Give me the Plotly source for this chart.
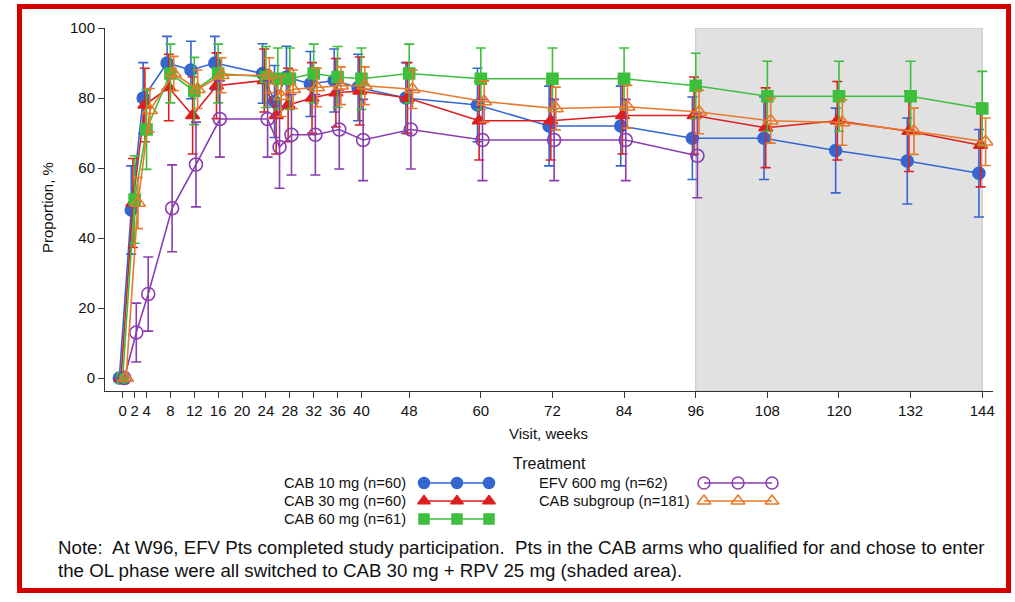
import plotly.graph_objects as go

W, H = 1015, 602

weeks = [0, 2, 4, 8, 12, 16, 24, 26, 28, 32, 36, 40, 48, 60, 72, 84, 96, 108, 120, 132, 144]
weeks_efv = weeks[:17]
x_ticks = [0, 2, 4, 8, 12, 16, 20, 24, 28, 32, 36, 40, 48, 60, 72, 84, 96, 108, 120, 132, 144]
y_ticks = [0, 20, 40, 60, 80, 100]

cab10 = [0, 48, 80, 90, 88, 90, 87, 79, 86, 84, 85, 83, 80, 78, 72, 72, 68.5, 68.5, 65, 62, 58.5]
cab10_err = [0, 12.6, 10.1, 7.6, 8.2, 7.6, 8.5, 10.3, 8.8, 9.3, 9.0, 9.5, 10.1, 10.5, 11.4, 11.4, 11.8, 11.8, 12.1, 12.3, 12.5]

cab30 = [0, 50, 78, 83, 75, 83.5, 85, 75, 78, 80, 81.5, 82, 80, 73.5, 73.5, 75, 75, 71.5, 73.5, 70.5, 66.5]
cab30_err = [0, 12.7, 10.5, 9.5, 11, 9.4, 9, 11, 10.5, 10.1, 9.8, 9.7, 10.1, 11.2, 11.2, 11, 11, 11.4, 11.2, 11.5, 11.9]

cab60 = [0, 51, 71, 87, 82, 87, 86, 85.5, 85.5, 87, 86, 85.5, 87, 85.5, 85.5, 85.5, 83.5, 80.5, 80.5, 80.5, 77]
cab60_err = [0, 12.5, 11.4, 8.4, 9.6, 8.4, 8.7, 8.8, 8.8, 8.4, 8.7, 8.8, 8.4, 8.8, 8.8, 8.8, 9.3, 10, 10, 10, 10.6]

efv = [0, 13, 24, 48.5, 61, 74, 74, 66, 69.5, 69.5, 71, 68, 71, 68, 68, 68, 63.5]
efv_err = [0, 8.4, 10.6, 12.4, 12.1, 10.9, 10.9, 11.8, 11.5, 11.5, 11.3, 11.6, 11.3, 11.6, 11.6, 11.6, 12]

sub = [0, 50, 76.5, 87, 82.5, 86.5, 86.5, 80.5, 82.5, 83, 83.5, 83.5, 82.5, 79, 77, 77.5, 76, 73.5, 73, 70.5, 67.5]
sub_err = [0, 7.3, 6.2, 4.9, 5.5, 5, 5, 5.8, 5.5, 5.5, 5.4, 5.4, 5.5, 5.9, 6.1, 6.1, 6.2, 6.4, 6.5, 6.6, 6.8]

FONT = "Liberation Sans, Arial, Helvetica, sans-serif"

series = [
    dict(name="CAB 10 mg (n=60)", x=weeks, y=cab10, e=cab10_err, color="#3566d0", sym="circle", size=12, off=-0.56),
    dict(name="CAB 30 mg (n=60)", x=weeks, y=cab30, e=cab30_err, color="#dd1f1f", sym="triangle-up", size=12, off=-0.28),
    dict(name="CAB 60 mg (n=61)", x=weeks, y=cab60, e=cab60_err, color="#3cbf3c", sym="square", size=11, off=0.0),
    dict(name="EFV 600 mg (n=62)", x=weeks_efv, y=efv, e=efv_err, color="#8a3db0", sym="circle-open", size=13, off=0.28),
    dict(name="CAB subgroup (n=181)", x=weeks, y=sub, e=sub_err, color="#e8782a", sym="triangle-up-open", size=13, off=0.56),
]

fig = go.Figure()

for s in series:
    fig.add_trace(go.Scatter(
        x=[w + s["off"] for w in s["x"]], y=s["y"], mode="lines+markers",
        line=dict(color=s["color"], width=1.6),
        marker=dict(symbol=s["sym"], size=s["size"], color=s["color"],
                    line=dict(color=s["color"], width=1.6)),
        error_y=dict(type="data", array=s["e"], color=s["color"], thickness=1.6, width=5),
        showlegend=False, xaxis="x", yaxis="y", name=s["name"]))

# legend samples on an overlay axis (pixel coordinates)
leg_cols = [(282, [424, 457, 489]), (537, [704, 738, 772])]
leg_rows = [483, 501, 519]
leg_pos = [(0, 0), (0, 1), (0, 2), (1, 0), (1, 1)]
annotations = []
for s, (c, r) in zip(series, leg_pos):
    tx, mx = leg_cols[c]
    yy = leg_rows[r]
    fig.add_trace(go.Scatter(
        x=mx, y=[yy] * 3, mode="lines+markers",
        line=dict(color=s["color"], width=1.4),
        marker=dict(symbol=s["sym"], size=s["size"] - 1, color=s["color"],
                    line=dict(color=s["color"], width=1.5)),
        showlegend=False, xaxis="x2", yaxis="y2", hoverinfo="skip"))
    annotations.append(dict(text=s["name"], x=tx / W, y=1 - yy / H, xref="paper", yref="paper",
                            xanchor="left", yanchor="middle", showarrow=False,
                            font=dict(size=14.7, color="#111", family=FONT)))

annotations += [
    dict(text="Treatment", x=549 / W, y=1 - 463 / H, xref="paper", yref="paper",
         xanchor="center", yanchor="middle", showarrow=False, font=dict(size=16, color="#111", family=FONT)),
    dict(text="Visit, weeks", x=548 / W, y=1 - 434 / H, xref="paper", yref="paper",
         xanchor="center", yanchor="middle", showarrow=False, font=dict(size=15, color="#111", family=FONT)),
    dict(text="Proportion, %", x=47 / W, y=1 - 208 / H, xref="paper", yref="paper", textangle=-90,
         xanchor="center", yanchor="middle", showarrow=False, font=dict(size=15, color="#111", family=FONT)),
    dict(text="Note:  At W96, EFV Pts completed study participation.  Pts in the CAB arms who qualified for and chose to enter",
         x=56 / W, y=1 - 547 / H, xref="paper", yref="paper", xanchor="left", yanchor="middle",
         showarrow=False, font=dict(size=18.7, color="#111", family=FONT)),
    dict(text="the OL phase were all switched to CAB 30 mg + RPV 25 mg (shaded area).",
         x=56 / W, y=1 - 570 / H, xref="paper", yref="paper", xanchor="left", yanchor="middle",
         showarrow=False, font=dict(size=18.7, color="#111", family=FONT)),
]

y_min = -3.7
shapes = [
    dict(type="rect", xref="x", yref="y", x0=96, x1=144, y0=y_min, y1=100,
         fillcolor="#e1e1e1", line=dict(color="#c4c4c4", width=1), layer="below"),
    dict(type="rect", xref="paper", yref="paper", x0=19.5 / W, x1=1008.5 / W, y0=1 - 590.5 / H, y1=1 - 6.5 / H,
         fillcolor="rgba(0,0,0,0)", line=dict(color="#d40000", width=5)),
]

fig.update_layout(
    width=W, height=H, margin=dict(l=0, r=0, t=0, b=0, autoexpand=False),
    paper_bgcolor="white", plot_bgcolor="rgba(0,0,0,0)",
    font=dict(family=FONT, size=14, color="#111"),
    xaxis=dict(domain=[105 / W, 993 / W], range=[-2.96, 145.8], tickvals=x_ticks,
               ticktext=[str(t) for t in x_ticks], ticks="outside", ticklen=6, tickcolor="#333",
               showline=True, linecolor="#333", linewidth=1, showgrid=False, zeroline=False,
               automargin=False,
               tickfont=dict(size=15, family=FONT, color="#111"), anchor="y"),
    yaxis=dict(domain=[1 - 391 / H, 1 - 28 / H], range=[y_min, 100], tickvals=y_ticks,
               ticks="outside", ticklen=6, tickcolor="#333", showline=True, linecolor="#333",
               linewidth=1, showgrid=False, zeroline=False, automargin=False,
               tickfont=dict(size=15, family=FONT, color="#111"), anchor="x"),
    xaxis2=dict(domain=[0, 1], range=[0, W], visible=False, anchor="y2", fixedrange=True, automargin=False),
    yaxis2=dict(domain=[0, 1], range=[H, 0], visible=False, anchor="x2", fixedrange=True, automargin=False),
    shapes=shapes, annotations=annotations,
)

fig.write_html("out.html", config={"displayModeBar": False},
               post_script="document.body.style.margin='0px';document.body.style.overflow='hidden';")
